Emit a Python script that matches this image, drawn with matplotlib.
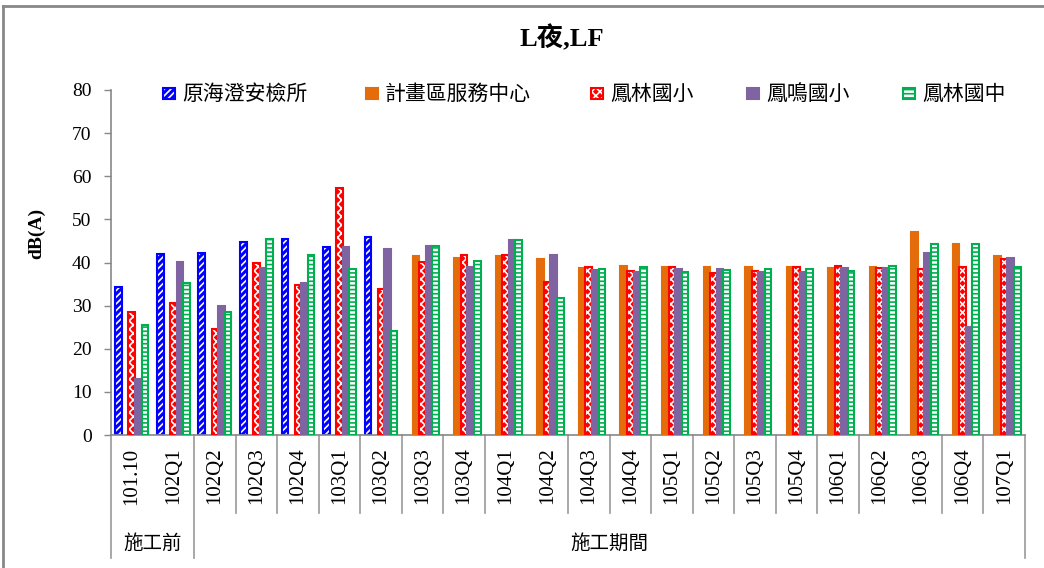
import numpy as np
import matplotlib
matplotlib.use("Agg")
import matplotlib.pyplot as plt
from matplotlib.patches import Rectangle
from matplotlib.lines import Line2D
import matplotlib.transforms as mtransforms

# ---------------- data ----------------
categories = ["101.10", "102Q1", "102Q2", "102Q3", "102Q4", "103Q1", "103Q2",
              "103Q3", "103Q4", "104Q1", "104Q2", "104Q3", "104Q4", "105Q1",
              "105Q2", "105Q3", "105Q4", "106Q1", "106Q2", "106Q3", "106Q4", "107Q1"]

series_names = ["原海澄安檢所", "計畫區服務中心", "鳳林國小", "鳳鳴國小", "鳳林國中"]

nan = np.nan
haicheng = [34.4, 42.0, 42.3, 44.8, 45.5, 43.5, 45.8, nan, nan, nan, nan,
            nan, nan, nan, nan, nan, nan, nan, nan, nan, nan, nan]
service_center = [nan, nan, nan, nan, nan, nan, nan, 41.4, 41.1, 41.4, 40.8,
                  38.8, 39.3, 39.0, 39.0, 39.0, 39.0, 38.7, 39.0, 47.1, 44.4, 41.4]
fenglin_elem = [28.6, 30.7, 24.5, 40.0, 34.8, 57.2, 33.9, 40.2, 41.7, 41.7, 35.5,
                39.0, 38.1, 38.9, 37.6, 38.1, 39.0, 39.3, 38.7, 38.4, 39.0, 40.8]
fengming_elem = [13.1, 40.2, 29.8, 38.8, 35.2, 43.5, 43.2, 43.8, 39.0, 45.2, 41.7,
                 38.3, 37.9, 38.4, 38.4, 37.8, 37.8, 38.7, 38.7, 42.3, 25.1, 41.1]
fenglin_junior = [25.5, 35.2, 28.6, 45.5, 41.7, 38.4, 24.2, 43.8, 40.4, 45.2, 31.8,
                  38.6, 38.9, 37.8, 38.3, 38.6, 38.6, 38.1, 39.3, 44.3, 44.3, 39.0]

all_series = [haicheng, service_center, fenglin_elem, fengming_elem, fenglin_junior]

period_labels = ["施工前", "施工期間"]
period_sizes = [2, 20]

title_text = "L夜,LF"
ylabel_text = "dB(A)"

# ---------------- style ----------------
# (fill colour, hatch colour, hatch, outline colour)
styles = [
    ("#0000FF", "white", "/////", "#0000FF"),
    ("#E46C0A", "#E46C0A", None, "#E46C0A"),
    ("#FF0000", "white", "xxxx", "#FF0000"),
    ("#8064A2", "#8064A2", None, "#8064A2"),
    ("white", "#00B050", "----", "#00B050"),
]

plt.rcParams["hatch.linewidth"] = 1.2
serif = ["Liberation Serif", "Noto Sans CJK TC"]
cjk = ["Noto Sans CJK TC", "DejaVu Sans"]

W, H = 1044, 568
fig = plt.figure(figsize=(W / 100, H / 100), dpi=100)
ax = fig.add_axes([111 / W, 133 / H, 914 / W, 345 / H])

x = np.arange(len(categories))
slot = 0.158
bw = 0.16
lw = 1.5
for j, (vals, st) in enumerate(zip(all_series, styles)):
    fc, hc, hatch, ec = st
    v = np.array(vals, dtype=float)
    m = ~np.isnan(v)
    xs = x[m] + (j - 2) * slot
    ax.bar(xs, v[m], width=bw, facecolor=fc, edgecolor=hc, hatch=hatch,
           linewidth=0, zorder=2 + j)
    ax.bar(xs, v[m], width=bw, fill=False, edgecolor=ec, linewidth=lw, zorder=2 + j)

ax.set_xlim(-0.5, len(categories) - 0.5)
ax.set_ylim(0, 80)
ax.set_yticks(np.arange(0, 81, 10))
ax.tick_params(axis="y", direction="out", length=5, width=1, color="#888888", pad=9)
for lab in ax.get_yticklabels():
    lab.set_family(serif)
    lab.set_fontsize(14)
ax.set_xticks(x)
ax.set_xticklabels(categories, rotation=90, fontsize=15, family=serif)
ax.tick_params(axis="x", length=0, pad=9)

for s in ["top", "right"]:
    ax.spines[s].set_visible(False)
for s in ["left", "bottom"]:
    ax.spines[s].set_color("#888888")
    ax.spines[s].set_linewidth(1.2)

# category separators
trans = mtransforms.blended_transform_factory(ax.transData, ax.transAxes)
short_y = (435 - 513) / 345
long_y = (435 - 558) / 345
group_edges = np.cumsum([0] + period_sizes)
skip = {1, 10, 19}
for k in range(len(categories) + 1):
    if k in group_edges:
        yb = long_y
    elif k in skip:
        continue
    else:
        yb = short_y
    ax.add_line(Line2D([k - 0.5, k - 0.5], [0, yb], transform=trans, color="#999999",
                       linewidth=1.2, clip_on=False))

# period labels
for i, lab in enumerate(period_labels):
    cx = (group_edges[i] + group_edges[i + 1]) / 2 - 0.5
    ax.text(cx, (435 - 543) / 345, lab, transform=trans, ha="center", va="center",
            fontsize=14, family=cjk)

# title / ylabel
fig.text(562 / W, 1 - 38 / H, title_text, ha="center", va="center", fontsize=19,
         fontweight="bold", family=serif)
fig.text(37 / W, 1 - 233 / H, ylabel_text, ha="center", va="center", rotation=90,
         fontsize=14, fontweight="bold", family=serif)

# legend (manual)
leg_marker_x = [163, 366, 591, 747, 903]
for j, name in enumerate(series_names):
    fc, hc, hatch, ec = styles[j]
    fig.patches.append(Rectangle((leg_marker_x[j] / W, 1 - 99 / H), 12 / W, 11 / H,
                                 transform=fig.transFigure, facecolor=fc, edgecolor=hc,
                                 hatch=hatch, linewidth=0))
    fig.patches.append(Rectangle((leg_marker_x[j] / W, 1 - 99 / H), 12 / W, 11 / H,
                                 transform=fig.transFigure, fill=False, edgecolor=ec,
                                 linewidth=1.5))
    fig.text((leg_marker_x[j] + 19) / W, 1 - 94 / H, name, ha="left", va="center",
             fontsize=15, family=cjk)

# outer frame (left and top edges visible)
fig.add_artist(Line2D([3 / W, 3 / W], [0, 1 - 6 / H], transform=fig.transFigure,
                      color="#888888", linewidth=2))
fig.add_artist(Line2D([3 / W, 1], [1 - 6 / H, 1 - 6 / H], transform=fig.transFigure,
                      color="#888888", linewidth=2))

fig.savefig("out.png", dpi=100)
